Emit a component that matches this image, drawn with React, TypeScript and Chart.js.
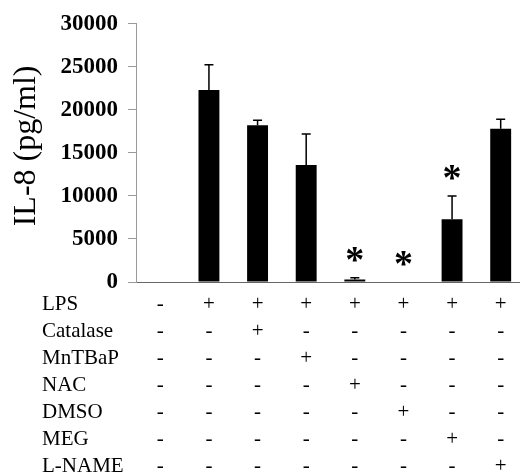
import React, { useEffect, useRef } from "react";
import { Chart, registerables } from "chart.js";

Chart.register(...registerables);

// ---- data ----
const categories = ["C1", "C2", "C3", "C4", "C5", "C6", "C7", "C8"];
const il8Means = [50, 22300, 18200, 13600, 300, 50, 7300, 17800];
const il8ErrorTops = [50, 25250, 18800, 17200, 500, 50, 10000, 18900];
const significant = [false, false, false, false, true, true, true, false];
const treatmentNames = ["LPS", "Catalase", "MnTBaP", "NAC", "DMSO", "MEG", "L-NAME"];
const lpsRow = ["-", "+", "+", "+", "+", "+", "+", "+"];
const catalaseRow = ["-", "-", "+", "-", "-", "-", "-", "-"];
const mntbapRow = ["-", "-", "-", "+", "-", "-", "-", "-"];
const nacRow = ["-", "-", "-", "-", "+", "-", "-", "-"];
const dmsoRow = ["-", "-", "-", "-", "-", "+", "-", "-"];
const megRow = ["-", "-", "-", "-", "-", "-", "+", "-"];
const lnameRow = ["-", "-", "-", "-", "-", "-", "-", "+"];
const yTickValues = [0, 5000, 10000, 15000, 20000, 25000, 30000];
const yTitle = "IL-8 (pg/ml)";

const treatmentRows = [lpsRow, catalaseRow, mntbapRow, nacRow, dmsoRow, megRow, lnameRow];

const SERIF = "'Liberation Serif', 'Times New Roman', serif";
const ROW_FONT_SIZE = 21;
const ROW_LINE_HEIGHT = 27;
const X_LABEL_PADDING = 9;

export default function App() {
  const canvasRef = useRef<HTMLCanvasElement | null>(null);

  useEffect(() => {
    const canvas = canvasRef.current;
    if (!canvas) return;

    const columnLabels = categories.map((_, i) => treatmentRows.map((r) => r[i]));

    const overlay = {
      id: "overlay",
      afterDatasetsDraw(chart: any) {
        const ctx = chart.ctx as CanvasRenderingContext2D;
        const xs = chart.scales.x;
        const ys = chart.scales.y;
        const meta = chart.getDatasetMeta(0);
        ctx.save();
        // error bars (upper only)
        ctx.strokeStyle = "#000";
        ctx.lineWidth = 1.5;
        meta.data.forEach((bar: any, i: number) => {
          const top = ys.getPixelForValue(il8ErrorTops[i]);
          const base = ys.getPixelForValue(il8Means[i]);
          if (base - top < 1) return;
          ctx.beginPath();
          ctx.moveTo(bar.x, base);
          ctx.lineTo(bar.x, top);
          ctx.moveTo(bar.x - 4.5, top);
          ctx.lineTo(bar.x + 4.5, top);
          ctx.stroke();
        });
        // asterisks
        ctx.fillStyle = "#000";
        ctx.font = `bold 38px ${SERIF}`;
        ctx.textAlign = "center";
        ctx.textBaseline = "alphabetic";
        const m = ctx.measureText("*");
        const asc = m.actualBoundingBoxAscent;
        const desc = m.actualBoundingBoxDescent;
        meta.data.forEach((bar: any, i: number) => {
          if (!significant[i]) return;
          const top = ys.getPixelForValue(il8ErrorTops[i]);
          const cy = top - 23;
          ctx.fillText("*", bar.x, cy + (asc - desc) / 2);
        });
        // row names
        ctx.font = `${ROW_FONT_SIZE}px ${SERIF}`;
        ctx.textAlign = "left";
        ctx.textBaseline = "middle";
        treatmentNames.forEach((name, r) => {
          const y = xs.top + X_LABEL_PADDING + ROW_LINE_HEIGHT * (r + 0.5);
          ctx.fillText(name, 42, y);
        });
        // y title
        ctx.font = `32px ${SERIF}`;
        ctx.textAlign = "center";
        ctx.textBaseline = "alphabetic";
        ctx.translate(35, (ys.top + ys.bottom) / 2 - 7);
        ctx.rotate(-Math.PI / 2);
        ctx.fillText(yTitle, 0, 0);
        ctx.restore();
      },
    };

    const chart = new Chart(canvas, {
      type: "bar",
      data: {
        labels: columnLabels as any,
        datasets: [
          {
            data: il8Means,
            backgroundColor: "#000",
            borderWidth: 0,
            barPercentage: 0.43,
            categoryPercentage: 1,
          },
        ],
      },
      options: {
        responsive: false,
        animation: false,
        devicePixelRatio: 1,
        layout: { padding: { top: 21, left: 0, right: 0, bottom: 0 } },
        plugins: {
          legend: { display: false },
          tooltip: { enabled: false },
          title: { display: false },
        },
        scales: {
          x: {
            offset: true,
            grid: { display: false, drawTicks: false },
            border: { display: true, color: "#666", width: 1 },
            ticks: {
              color: "#000",
              padding: X_LABEL_PADDING,
              autoSkip: false,
              maxRotation: 0,
              minRotation: 0,
              font: { family: SERIF, size: ROW_FONT_SIZE, lineHeight: `${ROW_LINE_HEIGHT}px` },
            },
            afterFit: (s: any) => {
              s.height = 191;
            },
          },
          y: {
            min: 0,
            max: 30000,
            afterBuildTicks: (s: any) => {
              s.ticks = yTickValues.map((v) => ({ value: v }));
            },
            grid: {
              drawOnChartArea: false,
              drawTicks: true,
              tickLength: 8,
              color: "#999",
            },
            border: { display: true, color: "#999", width: 1 },
            ticks: {
              color: "#000",
              padding: 10,
              font: { family: SERIF, size: 23, weight: "bold" },
              callback: (v: any) => String(v),
            },
            afterFit: (s: any) => {
              s.width = 136;
            },
          },
        },
      },
      plugins: [overlay],
    });

    return () => chart.destroy();
  }, []);

  return (
    <div
      style={{
        position: "absolute",
        left: 0,
        top: 0,
        width: 520,
        height: 473,
        overflow: "hidden",
        background: "#fff",
      }}
    >
      <canvas ref={canvasRef} width={525} height={473} style={{ display: "block" }} />
    </div>
  );
}
